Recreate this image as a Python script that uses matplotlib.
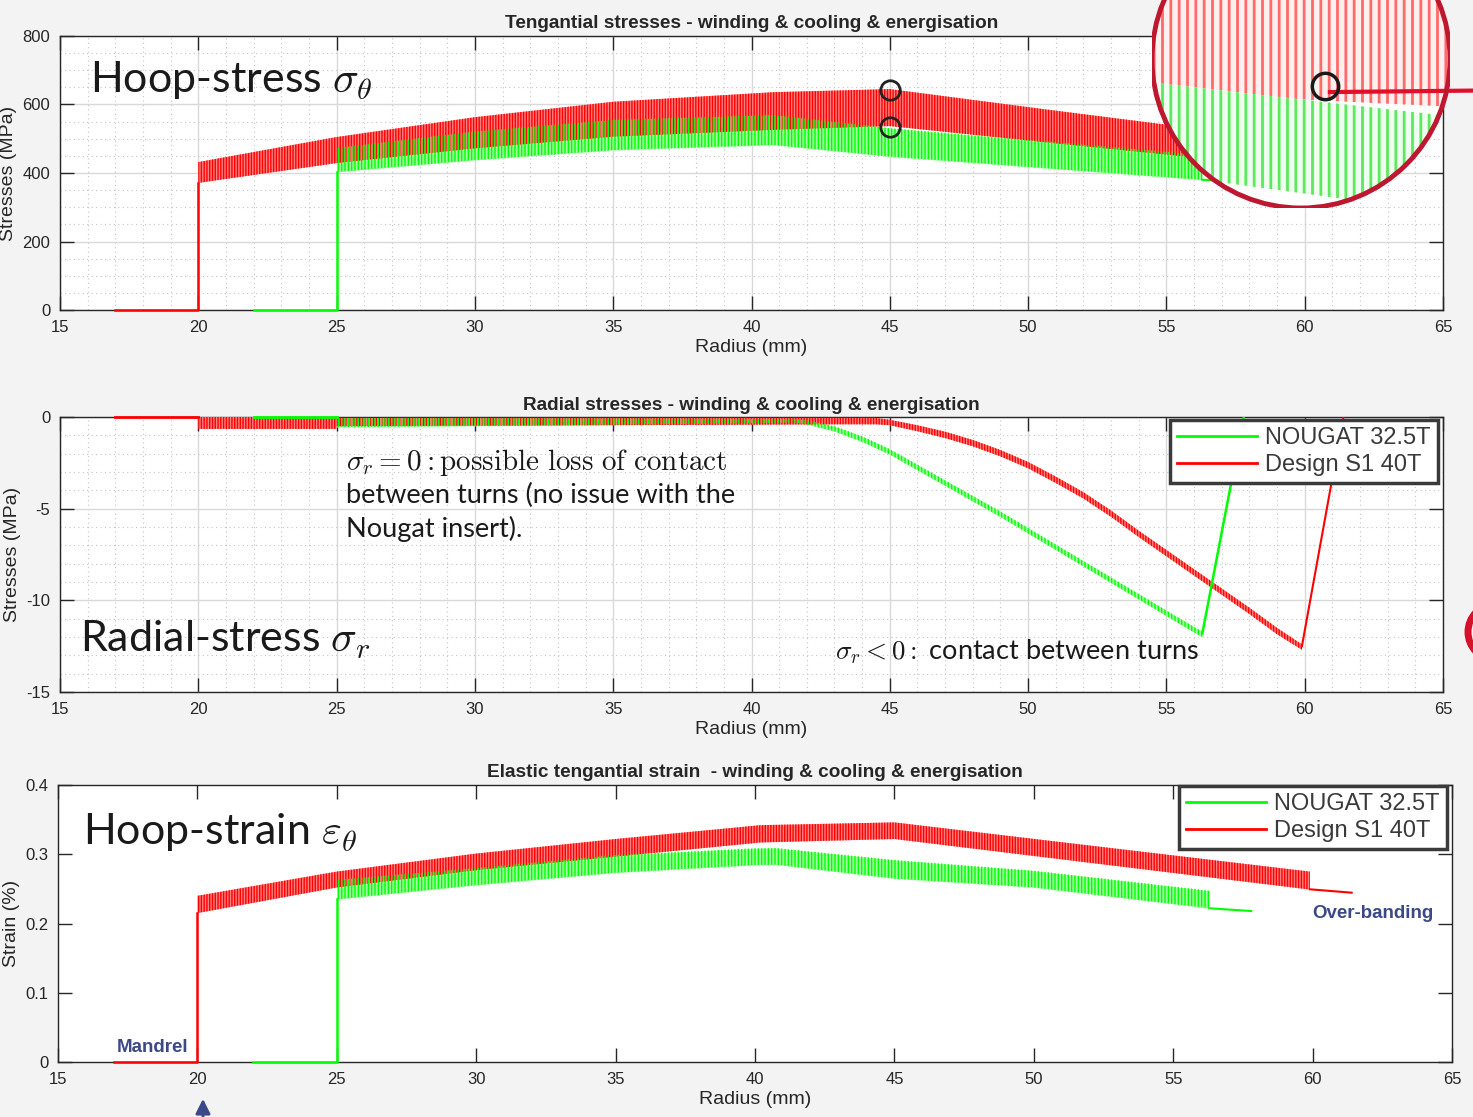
import matplotlib
matplotlib.use("Agg")
import matplotlib.pyplot as plt
from matplotlib.patches import Circle, Ellipse
from matplotlib.ticker import MultipleLocator

plt.rcParams['font.family'] = 'Liberation Sans'
plt.rcParams['mathtext.fontset'] = 'cm'
plt.rcParams['axes.unicode_minus'] = False
plt.rcParams['hatch.linewidth'] = 1.0

RED = '#ff0000'
GRN = '#00ff00'
NAVY = '#3b4a87'
INK = '#262626'

# ---- hoop stress (MPa): envelopes of the turn-by-turn sawtooth ----
hs_red_x = [20, 25, 30, 35, 40.8, 45, 50.8, 55.1, 60]
hs_red_hi = [432, 505, 563, 608, 636, 645, 584, 540, 490]
hs_red_lo = [371, 429, 472, 506, 526, 537, 488, 453, 413]
hs_grn_x = [25, 30, 35, 40.8, 45, 56.3]
hs_grn_hi = [473, 521, 555, 569, 531, 453]
hs_grn_lo = [403, 438, 467, 482, 448, 380]
hs_red_step_x = [17, 20, 20]
hs_red_step_y = [0, 0, 371]
hs_grn_step_x = [22, 25, 25]
hs_grn_step_y = [0, 0, 403]
hs_grn_tail_x = [56.3, 57.8]
hs_grn_tail_y = [380, 377]
hs_mark_x = [45, 45]
hs_mark_y = [642, 534]

# ---- radial stress (MPa) ----
rs_red_x = [20, 24.99, 25, 40, 43, 44.5, 45, 46, 47, 48, 49, 50, 51, 52, 53, 54, 55, 56, 57, 58, 59, 59.9]
rs_red_hi = [0, 0, -0.05, -0.05, -0.05, -0.05, -0.15, -0.45, -0.8, -1.25, -1.8, -2.45, -3.25, -4.1,
             -5.1, -6.2, -7.25, -8.3, -9.35, -10.4, -11.5, -12.4]
rs_red_lo = [-0.65, -0.65, -0.5, -0.42, -0.4, -0.4, -0.45, -0.78, -1.15, -1.6, -2.15, -2.8, -3.6, -4.45,
             -5.45, -6.55, -7.6, -8.65, -9.7, -10.75, -11.85, -12.7]
rs_grn_x = [25, 40, 41.5, 42, 43, 44, 45, 46, 47, 48, 49, 50, 51, 52, 53, 54, 55, 56, 56.3]
rs_grn_hi = [-0.05, -0.1, -0.1, -0.18, -0.5, -1.05, -1.75, -2.6, -3.45, -4.3, -5.15, -6.05, -6.95,
             -7.85, -8.75, -9.65, -10.55, -11.45, -11.7]
rs_grn_lo = [-0.55, -0.35, -0.3, -0.4, -0.78, -1.35, -2.05, -2.9, -3.75, -4.6, -5.45, -6.35, -7.25,
             -8.15, -9.05, -9.95, -10.85, -11.75, -12.0]
rs_red_flat_x = [17, 20]
rs_grn_flat_x = [22, 25]
rs_red_rise_x = [59.9, 61.4]
rs_red_rise_y = [-12.5, 0]
rs_grn_rise_x = [56.3, 57.8]
rs_grn_rise_y = [-11.8, 0]

# ---- hoop strain (%) ----
st_red_x = [20, 25, 30, 35, 40.2, 45, 59.9]
st_red_hi = [0.240, 0.275, 0.301, 0.322, 0.342, 0.346, 0.275]
st_red_lo = [0.215, 0.252, 0.277, 0.2965, 0.317, 0.322, 0.249]
st_grn_x = [25, 30, 35, 40, 40.75, 45, 50, 56.3]
st_grn_hi = [0.263, 0.280, 0.299, 0.3086, 0.309, 0.2917, 0.2763, 0.2474]
st_grn_lo = [0.235, 0.2556, 0.2734, 0.2845, 0.285, 0.265, 0.2522, 0.222]
st_red_step_x = [17, 20, 20]
st_red_step_y = [0, 0, 0.2147]
st_grn_step_x = [22, 25, 25]
st_grn_step_y = [0, 0, 0.235]
st_red_tail_x = [59.9, 61.4]
st_red_tail_y = [0.2494, 0.2445]
st_grn_tail_x = [56.3, 57.8]
st_grn_tail_y = [0.222, 0.218]

# ---- magnified view (inset units 0..1) ----
ins_x = [0, 1]
ins_red_hi = [1.0, 1.0]
ins_red_lo = [0.388, 0.34]
ins_grn_hi = [0.421, 0.308]
ins_grn_lo = [0.117, -0.017]

labels = ['NOUGAT 32.5T', 'Design S1 40T']

W, H = 1473, 1117
fig = plt.figure(figsize=(W / 100, H / 100), dpi=100, facecolor='#f3f3f3')


def px_axes(l, t, r, b):
    return fig.add_axes([l / W, 1 - b / H, (r - l) / W, (b - t) / H])


def style(ax, grid=True):
    ax.set_xlim(15, 65)
    ax.set_xticks(range(15, 66, 5))
    ax.tick_params(which='major', direction='in', length=10, width=1, top=True, right=True,
                   colors=INK, labelsize=12, pad=7)
    ax.tick_params(which='minor', length=0)
    for s in ax.spines.values():
        s.set_color(INK)
        s.set_linewidth(1)
    if grid:
        ax.xaxis.set_minor_locator(MultipleLocator(1))
        ax.grid(which='major', color='#d9d9d9', lw=1)
        ax.grid(which='minor', color='#c4c4c4', lw=0.8, ls=(0, (1, 3)))
        ax.set_axisbelow(True)
    ax.set_xlabel('Radius (mm)', fontsize=14, color=INK, labelpad=3)


def bands(ax, x_r, lo_r, hi_r, x_g, lo_g, hi_g):
    ax.fill_between(x_g, lo_g, hi_g, facecolor='#a0ffa0', edgecolor=GRN, linewidth=0, zorder=2)
    ax.fill_between(x_r, lo_r, hi_r, facecolor='#ff8080', edgecolor=RED, hatch='||||||',
                    linewidth=0, zorder=3)
    ax.fill_between(x_g, lo_g, hi_g, facecolor='none', edgecolor=GRN, hatch='|||||',
                    linewidth=0, zorder=4)


def legend(ax, handles, x, y):
    lg = ax.legend(handles, labels, loc='upper right', bbox_to_anchor=(x, y), borderaxespad=0,
                   fontsize=17, handlelength=3.4, handletextpad=0.35, borderpad=0.3,
                   labelspacing=0.22, fancybox=False, framealpha=1)
    lg.get_frame().set_edgecolor('#3a3a3a')
    lg.get_frame().set_linewidth(2.5)
    for t in lg.get_texts():
        t.set_color('#3a3a3a')
    for h in lg.legend_handles:
        h.set_linewidth(2)
    lg.set_zorder(10)


big = dict(family='Lato', fontsize=31, color='#1a1a1a', va='baseline')
note = dict(family='Lato', fontsize=19.5, color='#1a1a1a', va='baseline')
title = dict(fontsize=13.7, fontweight='bold', color=INK)

# ---------------- hoop stress ----------------
ax1 = px_axes(60, 36, 1443, 310)
style(ax1)
ax1.set_ylim(0, 800)
ax1.set_yticks(range(0, 801, 200))
ax1.yaxis.set_minor_locator(MultipleLocator(50))
bands(ax1, hs_red_x, hs_red_lo, hs_red_hi, hs_grn_x, hs_grn_lo, hs_grn_hi)
ax1.plot(hs_red_step_x, hs_red_step_y, color=RED, lw=1.8, zorder=5, clip_on=False)
ax1.plot(hs_grn_step_x, hs_grn_step_y, color=GRN, lw=1.8, zorder=5, clip_on=False)
ax1.plot(hs_grn_tail_x, hs_grn_tail_y, color=GRN, lw=1.5, zorder=5)
ax1.plot(hs_mark_x, hs_mark_y, 'o', ms=14, mfc='none', mec='#222222', mew=2, zorder=6)
ax1.set_title('Tengantial stresses - winding & cooling & energisation', pad=6, **title)
ax1.set_ylabel('Stresses (MPa)', fontsize=14, color=INK, labelpad=4)
ax1.text(0.0217, 0.792, r'Hoop-stress $\sigma_\theta$', transform=ax1.transAxes, **big)

# ---------------- radial stress ----------------
ax2 = px_axes(60, 417, 1443, 692)
style(ax2)
ax2.set_ylim(-15, 0)
ax2.set_yticks([-15, -10, -5, 0])
ax2.yaxis.set_minor_locator(MultipleLocator(1))
bands(ax2, rs_red_x, rs_red_lo, rs_red_hi, rs_grn_x, rs_grn_lo, rs_grn_hi)
ax2.plot(rs_red_flat_x, [0, 0], color=RED, lw=2, zorder=5, clip_on=False)
ax2.plot(rs_grn_flat_x, [0, 0], color=GRN, lw=2, zorder=5, clip_on=False)
g2, = ax2.plot(rs_grn_rise_x, rs_grn_rise_y, color=GRN, lw=1.8, zorder=5)
r2, = ax2.plot(rs_red_rise_x, rs_red_rise_y, color=RED, lw=1.5, zorder=5)
ax2.set_title('Radial stresses - winding & cooling & energisation', pad=5, **title)
ax2.set_ylabel('Stresses (MPa)', fontsize=14, color=INK, labelpad=4)
legend(ax2, [g2, r2], 0.9964, 0.989)
ax2.text(0.0145, 0.1455, r'Radial-stress $\sigma_r$', transform=ax2.transAxes, **big)
ax2.text(0.2068, 0.807, r'$\sigma_r = 0 : \mathrm{possible\ loss\ of\ contact}$',
         transform=ax2.transAxes, family='Lato', fontsize=21, color='#1a1a1a', va='baseline')
ax2.text(0.2068, 0.687, 'between turns (no issue with the', transform=ax2.transAxes, **note)
ax2.text(0.2068, 0.5636, 'Nougat insert).', transform=ax2.transAxes, **note)
ax2.text(0.5604, 0.12, r'$\sigma_r < 0:$ contact between turns', transform=ax2.transAxes, **note)

# ---------------- hoop strain ----------------
ax3 = px_axes(58, 785, 1452, 1062)
style(ax3, grid=False)
ax3.set_ylim(0, 0.4)
ax3.set_yticks([0, 0.1, 0.2, 0.3, 0.4])
ax3.set_yticklabels(['0', '0.1', '0.2', '0.3', '0.4'])
bands(ax3, st_red_x, st_red_lo, st_red_hi, st_grn_x, st_grn_lo, st_grn_hi)
r3, = ax3.plot(st_red_step_x, st_red_step_y, color=RED, lw=1.8, zorder=5, clip_on=False)
g3, = ax3.plot(st_grn_step_x, st_grn_step_y, color=GRN, lw=1.8, zorder=5, clip_on=False)
ax3.plot(st_red_tail_x, st_red_tail_y, color=RED, lw=1.5, zorder=5)
ax3.plot(st_grn_tail_x, st_grn_tail_y, color=GRN, lw=1.5, zorder=5)
ax3.set_title('Elastic tengantial strain  - winding & cooling & energisation', pad=6, **title)
ax3.set_ylabel('Strain (%)', fontsize=14, color=INK, labelpad=4)
legend(ax3, [g3, r3], 0.9964, 0.9964)
ax3.text(0.0179, 0.783, r'Hoop-strain $\varepsilon_\theta$', transform=ax3.transAxes, **big)
ax3.text(0.8996, 0.52, 'Over-banding', transform=ax3.transAxes, fontsize=13.5,
         fontweight='bold', color=NAVY, va='baseline')
ax3.text(0.0423, 0.036, 'Mandrel', transform=ax3.transAxes, fontsize=13.5,
         fontweight='bold', color=NAVY, va='baseline', zorder=7)
ax3.annotate('', xy=(0.104, -0.123), xytext=(0.104, -0.25), xycoords='axes fraction',
             arrowprops=dict(arrowstyle='-|>', color=NAVY, lw=2, mutation_scale=22),
             annotation_clip=False)

# ---------------- magnified view ----------------
axi = px_axes(1152, -90, 1450, 208)
axi.set_xlim(0, 1)
axi.set_ylim(0, 1)
axi.axis('off')
axi.add_patch(Circle((0.5, 0.5), 0.5, transform=axi.transAxes, facecolor='white',
                     edgecolor='none', zorder=1))
clip = Circle((0.5, 0.5), 0.5, transform=axi.transAxes)
pr = axi.fill_between(ins_x, ins_red_lo, ins_red_hi, facecolor='#fff0f0', edgecolor='#ff6a6a',
                      hatch='||', linewidth=0, zorder=2)
pg = axi.fill_between(ins_x, ins_grn_lo, ins_grn_hi, facecolor='#efffef', edgecolor='#5ee85e',
                      hatch='||', linewidth=0, zorder=3)
for p in (pr, pg):
    p.set_clip_path(clip)
    if hasattr(p, 'set_hatch_linewidth'):
        p.set_hatch_linewidth(2.0)
axi.plot([0.597, 1.077], [0.389, 0.394], color='#e0102a', lw=3, zorder=5, clip_on=False)
axi.plot([0.5805], [0.409], 'o', ms=19, mfc='none', mec='#1a1a1a', mew=2.5, zorder=6)
axi.add_patch(Circle((0.5, 0.5), 0.5, transform=axi.transAxes, facecolor='none',
                     edgecolor='#bf1730', lw=3.5, zorder=7))

fig.add_artist(Ellipse((1496 / W, 1 - 632 / H), 56 / W, 56 / H, transform=fig.transFigure,
                       facecolor='none', edgecolor='#d8102a', lw=5))

fig.savefig('out.png', dpi=100, facecolor=fig.get_facecolor())
